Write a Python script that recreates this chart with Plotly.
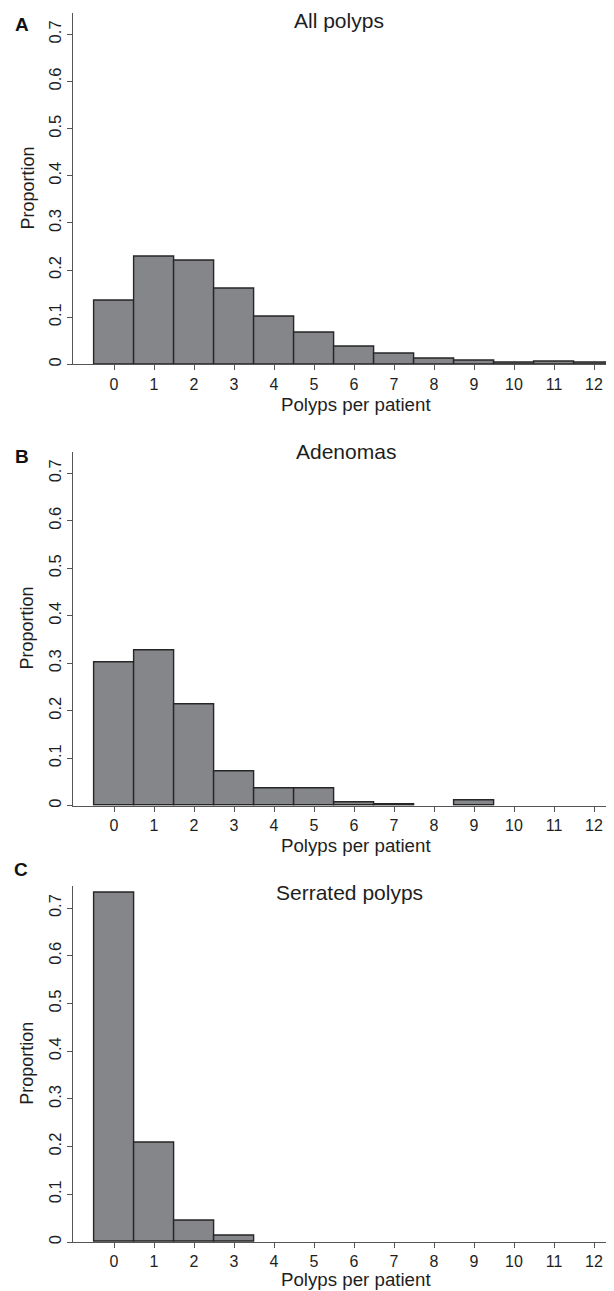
import plotly.graph_objects as go

categories = list(range(13))
tick_labels = [str(c) for c in categories]

all_polyps = [0.135, 0.228, 0.220, 0.160, 0.102, 0.066, 0.038, 0.023, 0.012, 0.008, 0.003, 0.006, 0.003]
adenomas = [0.302, 0.327, 0.213, 0.072, 0.036, 0.036, 0.007, 0.003, 0.0, 0.011, 0.0, 0.0, 0.0]
serrated = [0.732, 0.209, 0.044, 0.014, 0.0, 0.0, 0.0, 0.0, 0.0, 0.0, 0.0, 0.0, 0.0]

panel_titles = ["All polyps", "Adenomas", "Serrated polyps"]
panel_letters = ["A", "B", "C"]
x_title = "Polyps per patient"
y_title = "Proportion"
y_ticks = [0, 0.1, 0.2, 0.3, 0.4, 0.5, 0.6, 0.7]

# page is rendered with an 8px body margin, so the figure is offset by 8px
OFF = 8
W, H = 614 - OFF, 1291 - OFF
FONT = "Liberation Sans, Arial, sans-serif"
TXT = "#1e1e1e"
BAR = "#85868a"
EDGE = "#262626"
AXC = "#555555"

# page-pixel geometry of each panel (top, bottom of plot area)
panels_px = [(12.7, 364.3), (451.5, 805.7), (885.7, 1242.0)]
y_tops = [0.746, 0.746, 0.747]
x_left_px = 73.3
x_title_offsets = [40, 40, 37]


def py(p):
    return 1 - (p - OFF) / H


def px(p):
    return (p - OFF) / W


series = [all_polyps, adenomas, serrated]
fig = go.Figure()
layout = dict(
    width=W, height=H,
    margin=dict(l=0, r=0, t=0, b=0, autoexpand=False),
    paper_bgcolor="white", plot_bgcolor="white",
    showlegend=False,
    font=dict(family=FONT, color=TXT),
    bargap=0,
)
annotations = []
for i, vals in enumerate(series):
    xa = "x" if i == 0 else f"x{i+1}"
    ya = "y" if i == 0 else f"y{i+1}"
    fig.add_trace(go.Bar(
        x=categories, y=vals, xaxis=xa, yaxis=ya, width=1.0,
        marker=dict(color=BAR,
                    line=dict(color=EDGE, width=[1.4 if v > 0 else 0 for v in vals])),
    ))
    top, bot = panels_px[i]
    xkey = "xaxis" if i == 0 else f"xaxis{i+1}"
    ykey = "yaxis" if i == 0 else f"yaxis{i+1}"
    layout[xkey] = dict(
        domain=[px(x_left_px), 1.0], anchor=ya, range=[-1.0175, 12.5],
        tickmode="array", tickvals=categories, ticktext=tick_labels,
        ticks="outside", ticklen=5, tickcolor=AXC, tickwidth=1,
        showline=True, linecolor=AXC, linewidth=1.2,
        showgrid=False, zeroline=False,
        tickfont=dict(size=16, family=FONT, color=TXT),
    )
    layout[ykey] = dict(
        domain=[py(bot), py(top)], anchor=xa, range=[0, y_tops[i]],
        tickmode="array", tickvals=y_ticks,
        ticktext=[("0" if v == 0 else f"{v:.1f}") for v in y_ticks],
        tickangle=-90,
        ticks="outside", ticklen=5, tickcolor=AXC, tickwidth=1,
        showline=True, linecolor=AXC, linewidth=1.2,
        showgrid=False, zeroline=False,
        tickfont=dict(size=16.5, family=FONT, color=TXT),
    )
    mid = (top + bot) / 2
    annotations.append(dict(text=y_title, x=px(27), y=py(mid), xref="paper", yref="paper",
                            textangle=-90, showarrow=False, xanchor="center", yanchor="middle",
                            font=dict(size=18, family=FONT, color=TXT)))
    annotations.append(dict(text=x_title, x=px(356), y=py(bot + x_title_offsets[i]),
                            xref="paper", yref="paper",
                            showarrow=False, xanchor="center", yanchor="middle",
                            font=dict(size=18.7, family=FONT, color=TXT)))

title_pos = [(338.5, 20), (345.7, 451), (350, 893)]
letter_pos = [(21.7, 24), (21.7, 456), (21.0, 869)]
for i in range(3):
    tx, ty = title_pos[i]
    annotations.append(dict(text=panel_titles[i], x=px(tx), y=py(ty), xref="paper", yref="paper",
                            showarrow=False, xanchor="center", yanchor="middle",
                            font=dict(size=21, family=FONT, color=TXT)))
    lx, ly = letter_pos[i]
    annotations.append(dict(text="<b>" + panel_letters[i] + "</b>", x=px(lx), y=py(ly),
                            xref="paper", yref="paper",
                            showarrow=False, xanchor="center", yanchor="middle",
                            font=dict(size=19, family=FONT, color="#111111")))

layout["annotations"] = annotations
fig.update_layout(**layout)
fig.write_html("out.html")
